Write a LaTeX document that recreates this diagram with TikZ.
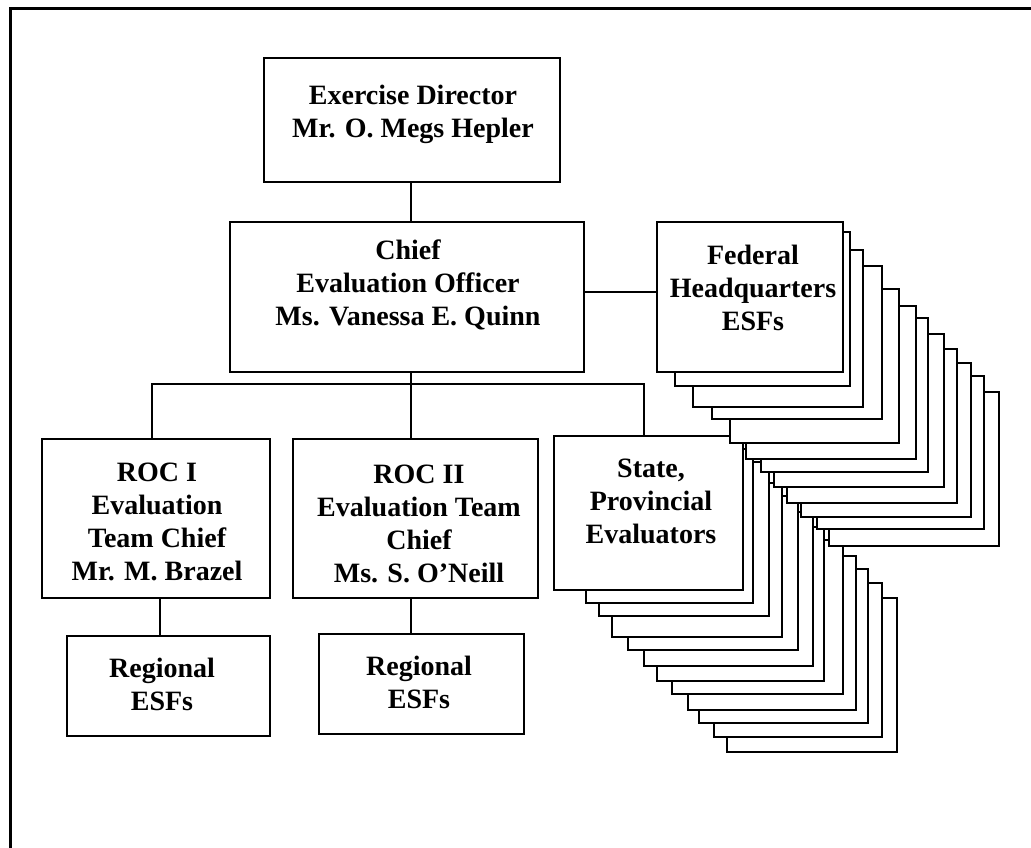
\documentclass[tikz,border=0pt]{standalone}
\usepackage{fontspec}
\setmainfont{Liberation Serif}
\newcommand\stackrect[4]{\draw[boxline] (#1,#2) rectangle (#3,#4);}
\tikzset{
  boxline/.style={draw=black, line width=2.2pt, fill=white},
  box/.style={boxline, rectangle, inner sep=0pt},
  txt/.style={anchor=north, align=center, inner sep=0pt, font=\bfseries\fontsize{28}{33}\selectfont},
  conn/.style={draw=black, line width=2.2pt},
  frameline/.style={draw=black, line width=3pt}
}
\begin{document}
\begin{tikzpicture}[x=1pt, y=-1pt]
\useasboundingbox (0,0) rectangle (1031,848);
\fill[white] (0,0) rectangle (1031,848);
% outer frame (right and bottom edges lie outside the picture)
\draw[frameline] (10,860) -- (10,9) -- (1040,9);

% boxes
\node[box, minimum width=296pt, minimum height=124pt] (ed) at (412,120) {};
\node[box, minimum width=354pt, minimum height=150pt] (chief) at (407,297) {};
\node[box, minimum width=228pt, minimum height=159pt] (roc1) at (156,518.5) {};
\node[box, minimum width=245pt, minimum height=159pt] (roc2) at (415.5,518.5) {};
\node[box, minimum width=203pt, minimum height=100pt] (reg1) at (168.5,686) {};
\node[box, minimum width=205pt, minimum height=100pt] (reg2) at (421.5,684) {};

% state stack (back to front)
\stackrect{727}{598}{897}{752}
\stackrect{714}{583}{882}{737}
\stackrect{699}{569}{868}{723}
\stackrect{688}{556}{856}{710}
\stackrect{672}{540}{843}{694}
\stackrect{657}{527}{824}{681}
\stackrect{644}{512}{813}{666}
\stackrect{628}{496}{798}{650}
\stackrect{612}{483}{782}{637}
\stackrect{599}{462}{769}{616}
\stackrect{586}{449}{753}{603}
\node[box, minimum width=189pt, minimum height=154pt] (state) at (648.5,513) {};

% federal stack (back to front)
\stackrect{829}{392}{999}{546}
\stackrect{817}{376}{984}{529}
\stackrect{801}{363}{971}{517}
\stackrect{787}{349}{957}{503}
\stackrect{774}{334}{944}{487}
\stackrect{761}{318}{928}{472}
\stackrect{746}{306}{916}{459}
\stackrect{730}{289}{899}{443}
\stackrect{712}{266}{882}{419}
\stackrect{693}{250}{863}{407}
\stackrect{675}{232}{850}{386}
\node[box, minimum width=186pt, minimum height=150pt] (fed) at (750,297) {};

% connectors
\coordinate (bus) at (411,384);
\coordinate (statedrop) at (644,436);
\draw[conn] (ed.south -| bus) -- (chief.north -| bus);
\draw[conn] ([yshift=5pt]chief.east) -- ([yshift=5pt]chief.east -| fed.west);
\draw[conn] (chief.south -| bus) -- (bus);
\draw[conn] (roc1.north -| 152,0) |- (bus) -| (statedrop);
\draw[conn] (bus) -- (bus |- roc2.north);
\draw[conn] (roc1.south -| 160,0) -- (reg1.north -| 160,0);
\draw[conn] (bus |- roc2.south) -- (bus |- reg2.north);

% texts
\node[txt] (edt) at (413,85) {Exercise Director\\Mr. O. Megs Hepler};
\node[txt] (chieft) at (408,240) {Chief\\Evaluation Officer\\Ms. Vanessa E. Quinn};
\node[txt] (fedt) at (753,245) {Federal\\Headquarters\\ESFs};
\node[txt] (statet) at (651,459) {State,\\Provincial\\Evaluators};
\node[txt] (roc1t) at (157,463) {ROC I\\Evaluation\\Team Chief\\Mr. M. Brazel};
\node[txt] (roc2t) at (419,465) {ROC II\\Evaluation Team\\Chief\\Ms. S. O’Neill};
\node[txt] (reg1t) at (162,658) {Regional\\ESFs};
\node[txt] (reg2t) at (419,656) {Regional\\ESFs};
\end{tikzpicture}
\end{document}
